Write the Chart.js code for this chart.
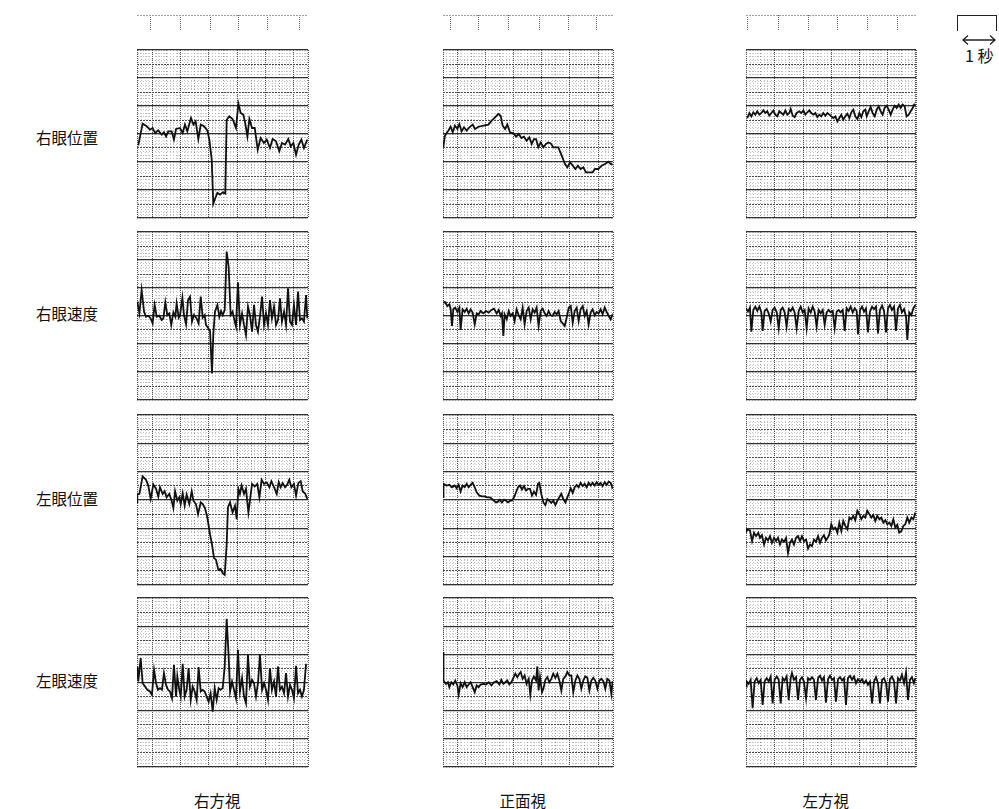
<!DOCTYPE html>
<html><head><meta charset="utf-8">
<script src="https://cdn.jsdelivr.net/npm/chart.js@4.4.1/dist/chart.umd.min.js"></script>
<style>
html,body{margin:0;padding:0;background:#fff;}
body{width:999px;height:809px;position:relative;overflow:hidden;font-family:"Noto Sans CJK JP","Noto Sans",sans-serif;color:#111;}
canvas{position:absolute;}
.lbl{position:absolute;font-size:15.5px;line-height:16px;white-space:nowrap;}
</style></head><body>
<script>
// ---- categories ----
const ROW_LABELS = ['右眼位置','右眼速度','左眼位置','左眼速度'];
const COL_LABELS = ['右方視','正面視','左方視'];
// ---- time marks (grid units from panel left) ----
const MARKS_RIGHT_GAZE = [0.97,3.05,5.18,7.23,9.29,11.56];
const MARKS_FRONT_GAZE = [0.55,2.55,4.68,6.81,8.87,10.92];
const MARKS_LEFT_GAZE  = [0.14,2.27,4.40,6.52,8.65,10.71];
// ---- traces: [time (grid units), amplitude (grid units, 0..12)] ----
const RIGHT_GAZE_R_POS = [[0.09,5.19],[0.40,6.74],[0.69,6.55],[0.92,6.31],[1.11,6.43],[1.28,6.07],[1.51,6.26],[1.75,5.95],[1.91,6.12],[2.06,5.83],[2.22,6.19],[2.46,6.19],[2.62,5.60],[2.77,6.36],[3.05,6.43],[3.24,6.07],[3.40,6.67],[3.57,6.19],[3.83,7.14],[4.00,6.67],[4.16,6.90],[4.35,5.64],[4.52,6.67],[4.75,6.55],[4.99,6.26],[5.13,5.60],[5.30,4.17],[5.41,1.02],[5.53,1.36],[5.70,1.79],[5.89,1.67],[6.08,1.83],[6.26,1.74],[6.36,7.02],[6.55,7.26],[6.78,7.07],[7.02,6.43],[7.19,8.17],[7.35,7.50],[7.54,7.38],[7.68,6.74],[7.83,5.83],[7.97,7.07],[8.16,6.43],[8.35,6.43],[8.56,4.88],[8.77,5.71],[9.00,5.36],[9.20,5.60],[9.43,5.00],[9.62,5.64],[9.86,5.48],[10.09,4.76],[10.28,5.36],[10.50,5.24],[10.73,5.64],[10.90,5.12],[11.09,5.36],[11.28,4.52],[11.47,5.24],[11.66,5.60],[11.84,5.00],[12.08,5.60]];
const RIGHT_GAZE_R_VEL = [[0.02,7.02],[0.17,6.19],[0.33,7.86],[0.50,6.31],[0.64,5.95],[0.80,6.02],[0.97,5.83],[1.11,5.48],[1.25,6.79],[1.40,5.95],[1.58,6.02],[1.75,5.71],[1.87,5.83],[2.01,6.98],[2.15,6.07],[2.29,6.19],[2.43,5.36],[2.58,6.26],[2.72,5.95],[2.81,6.90],[2.96,5.88],[3.05,6.02],[3.22,7.31],[3.33,6.07],[3.48,5.40],[3.62,7.14],[3.76,7.38],[3.90,5.60],[4.04,6.07],[4.23,5.83],[4.37,5.48],[4.52,7.38],[4.66,5.88],[4.80,6.07],[4.89,5.36],[5.06,5.12],[5.18,4.93],[5.32,1.90],[5.41,4.64],[5.53,6.31],[5.70,6.79],[5.84,5.95],[5.96,6.36],[6.08,6.07],[6.22,6.43],[6.36,10.60],[6.50,9.52],[6.64,6.07],[6.78,6.31],[6.93,5.60],[7.02,5.24],[7.16,8.40],[7.30,5.36],[7.45,6.19],[7.59,5.36],[7.73,4.64],[7.87,6.67],[8.01,6.07],[8.16,4.88],[8.30,6.79],[8.44,5.36],[8.58,4.88],[8.72,5.95],[8.87,7.38],[9.01,5.36],[9.15,6.19],[9.29,5.36],[9.43,7.14],[9.57,5.83],[9.72,6.67],[9.86,5.36],[10.00,5.71],[10.14,7.26],[10.28,5.60],[10.43,6.31],[10.57,5.36],[10.71,7.98],[10.85,5.60],[10.99,5.36],[11.13,6.79],[11.28,5.36],[11.42,7.74],[11.56,5.71],[11.70,5.83],[11.84,5.60],[11.99,7.50],[12.08,5.83]];
const RIGHT_GAZE_L_POS = [[0.00,5.83],[0.02,6.38],[0.17,6.43],[0.40,7.67],[0.64,7.43],[0.80,7.02],[0.97,6.07],[1.16,7.10],[1.35,6.79],[1.51,6.24],[1.63,6.90],[1.82,6.43],[1.96,6.62],[2.10,6.19],[2.29,6.43],[2.46,5.95],[2.58,5.43],[2.70,6.62],[2.86,5.95],[3.00,6.19],[3.10,5.71],[3.24,6.48],[3.38,5.60],[3.52,6.38],[3.71,5.71],[3.88,6.62],[4.00,5.95],[4.18,5.71],[4.33,5.00],[4.52,5.83],[4.66,5.71],[4.82,5.43],[4.99,4.76],[5.18,3.57],[5.32,2.86],[5.46,1.90],[5.60,1.79],[5.77,1.07],[5.93,1.14],[6.08,0.83],[6.22,0.71],[6.36,2.86],[6.45,5.48],[6.60,5.83],[6.78,5.12],[6.95,5.60],[7.07,4.64],[7.19,6.79],[7.30,6.43],[7.42,7.02],[7.59,6.43],[7.73,6.79],[7.90,5.12],[8.01,5.95],[8.16,7.14],[8.35,6.95],[8.53,7.14],[8.68,6.19],[8.84,7.43],[9.01,7.14],[9.20,7.24],[9.39,6.90],[9.53,7.33],[9.72,6.90],[9.91,6.43],[10.05,7.26],[10.19,6.90],[10.33,7.19],[10.50,6.90],[10.66,7.10],[10.80,7.43],[10.95,6.90],[11.13,7.14],[11.28,6.31],[11.44,7.19],[11.61,7.33],[11.75,6.62],[11.94,6.43],[12.08,6.07]];
const RIGHT_GAZE_L_VEL = [[0.00,6.79],[0.02,7.14],[0.09,6.07],[0.26,7.74],[0.40,5.95],[0.57,5.71],[0.73,5.48],[0.92,5.36],[1.06,5.12],[1.21,6.90],[1.35,5.95],[1.49,5.48],[1.63,5.60],[1.77,5.48],[1.91,6.67],[2.06,5.83],[2.20,5.48],[2.34,5.36],[2.48,4.88],[2.62,7.26],[2.77,5.00],[2.86,6.43],[3.00,5.48],[3.10,5.00],[3.24,7.33],[3.38,5.00],[3.52,5.48],[3.66,7.02],[3.81,4.76],[3.95,5.71],[4.09,5.36],[4.23,4.76],[4.37,7.10],[4.52,5.36],[4.66,5.48],[4.80,5.36],[4.94,5.00],[5.08,4.64],[5.22,5.24],[5.37,3.93],[5.51,5.60],[5.65,4.76],[5.79,5.60],[5.93,5.48],[6.08,5.60],[6.22,7.14],[6.36,10.52],[6.50,7.86],[6.60,5.36],[6.74,6.07],[6.88,5.48],[7.02,4.88],[7.16,8.33],[7.30,5.36],[7.45,6.31],[7.59,5.00],[7.73,4.52],[7.87,7.98],[8.01,5.71],[8.16,6.19],[8.30,5.95],[8.44,5.00],[8.58,5.95],[8.72,7.98],[8.87,5.48],[9.01,5.95],[9.15,5.48],[9.29,4.76],[9.43,7.02],[9.57,5.48],[9.72,6.07],[9.86,5.00],[10.00,7.14],[10.14,5.48],[10.28,5.71],[10.43,5.24],[10.57,6.67],[10.71,5.00],[10.85,5.83],[10.99,5.48],[11.13,4.88],[11.28,7.19],[11.42,5.24],[11.56,5.48],[11.70,5.00],[11.84,5.48],[11.99,7.33]];
const FRONT_GAZE_R_POS = [[0.02,5.05],[0.14,5.88],[0.38,6.24],[0.54,6.52],[0.69,6.12],[0.85,6.60],[1.02,6.36],[1.16,6.71],[1.32,6.19],[1.49,6.48],[1.68,6.24],[1.87,6.48],[2.10,6.67],[2.27,6.36],[2.51,6.52],[2.86,6.60],[3.22,6.67],[3.45,6.95],[3.69,7.19],[3.92,7.43],[4.09,7.31],[4.23,6.60],[4.40,6.36],[4.56,6.67],[4.75,6.12],[4.99,6.05],[5.18,5.81],[5.37,6.00],[5.56,5.71],[5.74,5.81],[5.93,5.52],[6.12,5.76],[6.29,5.29],[6.45,5.64],[6.60,5.64],[6.76,5.05],[6.93,5.40],[7.12,5.05],[7.30,5.29],[7.47,5.40],[7.64,5.33],[7.82,5.05],[8.18,5.05],[8.42,4.45],[8.65,3.86],[8.82,3.62],[9.01,3.98],[9.20,3.74],[9.39,3.50],[9.57,3.74],[9.76,3.50],[9.95,3.62],[10.14,3.26],[10.38,3.26],[10.61,3.26],[10.78,3.50],[11.02,3.50],[11.25,3.74],[11.49,3.86],[11.73,4.02],[11.89,3.86],[12.03,3.81]];
const FRONT_GAZE_R_VEL = [[0.00,6.95],[0.14,7.00],[0.31,6.71],[0.45,6.83],[0.54,6.52],[0.64,5.29],[0.73,6.48],[0.87,6.60],[1.02,6.29],[1.16,6.60],[1.25,5.00],[1.39,6.48],[1.54,6.29],[1.68,6.52],[1.82,6.19],[1.96,6.48],[2.10,6.24],[2.25,5.40],[2.39,6.19],[2.53,6.12],[2.67,6.36],[2.86,6.19],[3.05,6.36],[3.24,6.24],[3.43,6.43],[3.62,6.52],[3.81,6.19],[3.95,6.43],[4.09,6.00],[4.18,6.19],[4.28,4.57],[4.37,6.12],[4.52,5.76],[4.66,6.36],[4.80,6.00],[4.94,6.19],[5.08,5.64],[5.22,6.48],[5.37,6.05],[5.51,5.76],[5.65,6.60],[5.79,5.40],[5.93,6.36],[6.08,6.60],[6.22,5.76],[6.36,6.48],[6.50,6.24],[6.64,6.60],[6.78,5.29],[6.93,6.36],[7.07,6.52],[7.21,6.19],[7.35,6.00],[7.49,6.36],[7.64,6.05],[7.78,6.00],[7.92,6.29],[8.06,6.12],[8.20,6.36],[8.35,5.64],[8.49,5.48],[8.63,5.29],[8.77,5.88],[8.92,6.60],[9.06,6.71],[9.20,5.52],[9.34,6.36],[9.48,6.60],[9.62,5.64],[9.76,6.48],[9.91,6.71],[10.05,6.00],[10.19,6.36],[10.33,5.40],[10.47,6.24],[10.61,6.48],[10.76,6.05],[10.90,6.29],[11.04,6.19],[11.18,6.48],[11.32,6.12],[11.47,6.60],[11.61,6.29],[11.75,6.00],[11.89,5.76],[12.03,6.12]];
const FRONT_GAZE_L_POS = [[0.00,6.20],[0.00,7.02],[0.07,7.14],[0.26,7.02],[0.45,7.07],[0.64,6.90],[0.83,7.02],[0.97,6.83],[1.11,7.07],[1.25,6.60],[1.39,7.02],[1.54,6.90],[1.68,7.14],[1.82,6.90],[1.96,7.07],[2.10,7.21],[2.25,6.90],[2.39,6.55],[2.58,6.31],[2.77,6.26],[2.96,6.26],[3.14,6.19],[3.33,6.19],[3.48,6.07],[3.62,5.95],[3.76,5.83],[3.90,5.88],[4.04,6.02],[4.18,5.83],[4.33,6.02],[4.47,5.95],[4.61,5.83],[4.75,5.95],[4.89,5.95],[5.04,6.19],[5.18,6.55],[5.32,6.90],[5.46,7.02],[5.60,6.74],[5.74,6.98],[5.89,6.67],[6.03,6.79],[6.17,6.79],[6.31,6.31],[6.45,6.60],[6.60,6.36],[6.74,7.14],[6.83,7.21],[6.97,6.43],[7.12,5.83],[7.26,5.64],[7.40,6.07],[7.54,5.95],[7.68,5.79],[7.82,5.95],[7.97,5.64],[8.11,5.95],[8.25,6.19],[8.39,6.43],[8.53,6.07],[8.68,5.83],[8.82,6.19],[8.96,6.55],[9.06,6.83],[9.20,6.50],[9.34,6.90],[9.48,7.07],[9.62,6.90],[9.76,7.21],[9.91,6.98],[10.05,7.14],[10.19,6.90],[10.33,7.21],[10.47,7.02],[10.61,7.21],[10.76,7.02],[10.90,7.26],[11.04,7.07],[11.18,7.21],[11.32,6.98],[11.47,7.26],[11.61,7.07],[11.75,7.31],[11.89,7.21],[12.03,6.79]];
const FRONT_GAZE_L_VEL = [[0.00,8.17],[0.00,7.10],[0.07,6.14],[0.21,5.90],[0.35,6.02],[0.45,5.67],[0.59,6.02],[0.73,5.86],[0.87,6.14],[1.02,5.79],[1.11,5.14],[1.25,5.95],[1.39,5.67],[1.54,6.02],[1.68,5.67],[1.82,5.86],[1.96,6.02],[2.10,5.67],[2.25,5.31],[2.39,5.79],[2.53,5.67],[2.67,5.86],[2.86,5.90],[3.05,5.86],[3.24,6.02],[3.43,5.79],[3.62,6.02],[3.81,6.10],[4.00,5.86],[4.14,6.19],[4.28,5.90],[4.42,6.02],[4.56,6.14],[4.70,5.86],[4.85,6.02],[4.99,6.33],[5.13,6.62],[5.27,6.38],[5.41,6.62],[5.51,6.74],[5.65,6.26],[5.79,6.50],[5.93,5.90],[6.08,6.26],[6.19,5.14],[6.31,6.14],[6.45,6.43],[6.60,6.14],[6.69,7.14],[6.78,5.43],[6.88,6.38],[7.02,5.31],[7.12,5.55],[7.26,6.19],[7.40,6.38],[7.54,6.02],[7.68,6.26],[7.82,6.62],[7.97,6.33],[8.11,6.62],[8.25,6.14],[8.39,5.43],[8.53,6.26],[8.68,6.43],[8.82,6.74],[8.96,6.50],[9.10,6.50],[9.24,5.31],[9.39,6.14],[9.53,6.50],[9.67,6.26],[9.81,5.55],[9.95,6.14],[10.09,6.43],[10.24,6.33],[10.38,5.43],[10.52,6.14],[10.66,6.33],[10.80,6.14],[10.95,5.55],[11.09,6.14],[11.23,6.26],[11.37,6.10],[11.51,5.55],[11.65,6.26],[11.80,6.14],[11.94,5.19],[12.03,6.10]];
const LEFT_GAZE_R_POS = [[0.09,7.14],[0.24,7.50],[0.38,7.26],[0.52,7.55],[0.66,7.38],[0.80,7.62],[0.95,7.38],[1.09,7.50],[1.23,7.69],[1.37,7.50],[1.51,7.62],[1.65,7.31],[1.80,7.50],[1.94,7.67],[2.08,7.38],[2.22,7.26],[2.36,7.62],[2.51,7.50],[2.65,7.38],[2.79,7.69],[2.93,7.38],[3.07,7.50],[3.17,7.79],[3.31,7.31],[3.45,7.21],[3.59,7.50],[3.78,7.62],[3.92,7.50],[4.07,7.69],[4.21,7.38],[4.35,7.55],[4.49,7.69],[4.63,7.50],[4.78,7.38],[4.92,7.50],[5.06,7.21],[5.20,7.38],[5.34,7.26],[5.48,7.50],[5.63,7.31],[5.77,7.50],[5.91,7.38],[6.05,7.26],[6.19,7.14],[6.34,7.26],[6.48,6.90],[6.62,7.14],[6.76,7.38],[6.90,7.02],[7.04,7.26],[7.19,7.45],[7.33,7.14],[7.47,7.55],[7.61,7.74],[7.75,7.26],[7.90,7.07],[8.04,7.50],[8.18,7.21],[8.32,7.62],[8.46,7.74],[8.56,7.26],[8.70,7.62],[8.84,7.93],[8.98,7.50],[9.13,7.26],[9.27,7.74],[9.41,7.98],[9.55,7.62],[9.69,7.38],[9.83,7.86],[9.98,8.02],[10.12,7.74],[10.26,7.38],[10.40,7.74],[10.54,8.02],[10.69,7.86],[10.83,8.10],[10.97,7.86],[11.11,8.10],[11.25,7.98],[11.39,7.26],[11.54,7.38],[11.68,7.62],[11.82,7.86],[11.96,8.17]];
const LEFT_GAZE_R_VEL = [[0.00,6.55],[0.14,6.31],[0.28,6.60],[0.38,4.88],[0.52,6.43],[0.66,6.67],[0.80,6.36],[0.95,6.67],[1.09,6.26],[1.18,4.93],[1.32,6.36],[1.47,6.50],[1.61,6.19],[1.75,5.60],[1.89,6.43],[2.03,6.60],[2.18,6.26],[2.32,5.12],[2.46,6.43],[2.60,6.60],[2.74,6.26],[2.88,5.24],[3.03,6.50],[3.17,6.36],[3.31,6.60],[3.45,6.26],[3.59,5.12],[3.74,6.36],[3.88,6.67],[4.02,6.26],[4.16,6.43],[4.30,5.12],[4.44,6.55],[4.59,6.26],[4.73,6.67],[4.87,6.31],[5.01,5.24],[5.15,6.43],[5.30,6.19],[5.44,6.43],[5.58,5.36],[5.72,6.26],[5.86,6.43],[6.00,6.26],[6.15,6.36],[6.29,5.12],[6.43,6.31],[6.57,6.43],[6.71,6.26],[6.86,6.43],[7.00,4.93],[7.14,6.55],[7.28,6.36],[7.42,6.67],[7.57,6.26],[7.71,6.55],[7.85,6.36],[7.94,4.69],[8.09,6.43],[8.23,6.67],[8.37,6.31],[8.51,6.55],[8.65,4.83],[8.79,6.31],[8.94,6.67],[9.08,6.50],[9.22,6.67],[9.36,4.76],[9.50,6.43],[9.65,6.74],[9.79,6.36],[9.93,4.83],[10.07,6.55],[10.21,6.79],[10.35,6.43],[10.50,6.67],[10.64,4.93],[10.78,6.55],[10.92,6.79],[11.06,6.26],[11.21,6.50],[11.35,5.95],[11.44,4.29],[11.58,6.26],[11.73,6.07],[11.87,6.55],[12.01,6.79]];
const LEFT_GAZE_L_POS = [[0.00,3.69],[0.09,3.93],[0.28,3.86],[0.43,3.10],[0.57,3.69],[0.71,3.45],[0.87,3.69],[0.99,3.33],[1.13,3.52],[1.28,2.86],[1.42,3.33],[1.56,3.14],[1.70,3.45],[1.84,2.98],[1.99,3.33],[2.13,3.10],[2.27,3.33],[2.41,2.86],[2.55,3.21],[2.70,3.05],[2.84,3.33],[2.98,2.26],[3.12,2.98],[3.26,3.21],[3.40,2.86],[3.55,3.33],[3.69,3.45],[3.83,3.10],[3.97,3.45],[4.11,3.10],[4.26,3.21],[4.40,2.57],[4.54,2.86],[4.68,2.74],[4.82,3.21],[4.96,3.05],[5.11,3.45],[5.25,2.98],[5.39,3.33],[5.53,3.52],[5.67,3.14],[5.82,3.38],[5.91,3.57],[6.05,4.29],[6.19,3.93],[6.34,4.05],[6.48,3.69],[6.62,4.40],[6.76,3.81],[6.90,4.52],[7.04,4.17],[7.19,3.93],[7.33,4.76],[7.47,4.64],[7.61,4.88],[7.75,4.57],[7.90,5.24],[8.04,5.00],[8.18,4.64],[8.32,4.88],[8.46,4.76],[8.60,5.24],[8.75,5.00],[8.89,4.76],[9.03,4.95],[9.17,4.52],[9.31,4.88],[9.46,4.64],[9.60,4.76],[9.74,4.40],[9.88,4.57],[10.02,4.29],[10.17,4.40],[10.31,4.17],[10.45,4.64],[10.59,4.05],[10.73,4.24],[10.87,3.69],[11.02,3.81],[11.16,4.17],[11.30,4.29],[11.44,4.76],[11.58,4.40],[11.73,4.76],[11.87,4.64],[12.01,5.12]];
const LEFT_GAZE_L_VEL = [[0.00,5.71],[0.05,6.07],[0.19,5.90],[0.33,6.19],[0.47,4.17],[0.61,6.07],[0.76,6.31],[0.90,5.95],[1.04,6.19],[1.18,4.40],[1.32,6.07],[1.47,6.31],[1.61,6.07],[1.75,6.43],[1.89,4.52],[2.03,6.19],[2.18,6.43],[2.32,6.19],[2.46,4.52],[2.60,6.31],[2.74,6.14],[2.88,6.43],[3.03,4.76],[3.17,6.31],[3.26,6.67],[3.40,6.19],[3.55,6.38],[3.69,4.76],[3.83,6.19],[3.97,6.38],[4.11,6.07],[4.26,4.88],[4.40,6.31],[4.54,6.19],[4.68,6.38],[4.82,6.19],[4.96,4.76],[5.11,6.31],[5.25,6.48],[5.39,6.14],[5.53,6.38],[5.67,4.57],[5.82,6.24],[5.96,6.48],[6.10,6.19],[6.24,6.31],[6.38,4.64],[6.53,6.24],[6.67,6.38],[6.81,6.14],[6.95,6.31],[7.09,4.40],[7.23,6.31],[7.38,6.48],[7.52,6.19],[7.66,6.43],[7.80,5.95],[7.94,6.24],[8.09,6.07],[8.23,6.24],[8.37,5.95],[8.51,6.14],[8.65,5.83],[8.79,6.07],[8.94,4.52],[9.08,6.07],[9.22,6.38],[9.36,5.95],[9.50,4.52],[9.65,6.19],[9.79,6.31],[9.93,5.95],[10.07,4.64],[10.21,6.24],[10.35,6.43],[10.50,6.07],[10.64,4.52],[10.78,6.31],[10.92,6.14],[11.06,6.55],[11.21,5.95],[11.35,6.71],[11.49,4.76],[11.63,6.19],[11.77,6.38],[11.91,5.95],[12.01,6.31]];

const TRACES = [
  [RIGHT_GAZE_R_POS, FRONT_GAZE_R_POS, LEFT_GAZE_R_POS],
  [RIGHT_GAZE_R_VEL, FRONT_GAZE_R_VEL, LEFT_GAZE_R_VEL],
  [RIGHT_GAZE_L_POS, FRONT_GAZE_L_POS, LEFT_GAZE_L_POS],
  [RIGHT_GAZE_L_VEL, FRONT_GAZE_L_VEL, LEFT_GAZE_L_VEL]
];
const MARKS = [MARKS_RIGHT_GAZE, MARKS_FRONT_GAZE, MARKS_LEFT_GAZE];

// ---- layout ----
const UNIT = 14.1;
const COL_LEFT = [137, 443, 746];
const COL_W = [171, 170, 170];
const COL_GRID_OFFSET = [1.1, 1.0, 0.05];
const ROW_TOP = [50, 232, 415, 598];
const ROW_H = [168, 168, 170, 169];
const PAD = 2;

function range(start, end, step) {
  const out = [];
  for (let v = start; v <= end + 1e-6; v += step) out.push(+v.toFixed(4));
  return out;
}
function gridAxis(dir, min, max, values, color, width, dash, z) {
  return {
    type: 'linear', axis: dir, position: dir === 'x' ? 'bottom' : 'left',
    min, max, display: true,
    afterBuildTicks: s => { s.ticks = values.map(v => ({ value: v })); },
    ticks: { display: false },
    grid: { drawTicks: false, color, lineWidth: width, z },
    border: { display: false, dash }
  };
}
function makeCanvas(left, top, w, h) {
  const c = document.createElement('canvas');
  c.width = w; c.height = h;
  c.style.left = left + 'px'; c.style.top = top + 'px';
  c.style.width = w + 'px'; c.style.height = h + 'px';
  document.body.appendChild(c);
  return c;
}
const baseOpts = {
  responsive: false, animation: false, events: [], devicePixelRatio: 1,
  layout: { padding: PAD },
  plugins: { legend: { display: false }, tooltip: { enabled: false } }
};

for (let c = 0; c < 3; c++) {
  const xMax = COL_W[c] / UNIT;
  const off = COL_GRID_OFFSET[c];
  const majX = [0, ...range(off, xMax, 2), xMax];
  const minX = range(off + 1, xMax, 2);
  const fineStart = off - Math.floor(off / 0.25) * 0.25;
  const fineX = range(fineStart, xMax, 0.25);
  for (let r = 0; r < 4; r++) {
    const cv = makeCanvas(COL_LEFT[c] - PAD, ROW_TOP[r] - PAD, COL_W[c] + 2 * PAD, ROW_H[r] + 2 * PAD);
    new Chart(cv, {
      type: 'line',
      data: { datasets: [{
        data: TRACES[r][c].map(([x, y]) => ({ x, y })),
        borderColor: '#111', borderWidth: 1.8, pointRadius: 0, tension: 0, fill: false
      }] },
      options: Object.assign({}, baseOpts, {
        scales: {
          xFine: gridAxis('x', 0, xMax, fineX, '#c2c2c2', 1, [1, 2], -3),
          yFine: gridAxis('y', 0, 12, range(0, 12, 0.25), '#c2c2c2', 1, [1, 2], -3),
          xMinor: gridAxis('x', 0, xMax, minX, '#939393', 1, [1, 2], -2),
          yOdd: gridAxis('y', 0, 12, range(1, 11, 2), '#4a4a4a', 1, [2, 1], -2),
          x: gridAxis('x', 0, xMax, majX, '#555', 1, [1, 1], -1),
          y: gridAxis('y', 0, 12, range(0, 12, 2), '#303030', 1.3, [], -1)
        }
      })
    });
  }
  // time-mark strip above each column
  const tc = makeCanvas(COL_LEFT[c] - PAD, 13, COL_W[c] + 2 * PAD, 20);
  new Chart(tc, {
    type: 'line',
    data: { datasets: [] },
    options: Object.assign({}, baseOpts, {
      scales: {
        x: gridAxis('x', 0, xMax, MARKS[c], '#6a6a6a', 1, [1, 1], -1),
        y: gridAxis('y', 0, 1, [1], '#a0a0a0', 1, [2, 1], -1)
      }
    })
  });
}

// ---- text labels ----
function addLabel(text, cx, cy, size) {
  const d = document.createElement('div');
  d.className = 'lbl';
  d.textContent = text;
  if (size) d.style.fontSize = size + 'px';
  document.body.appendChild(d);
  const w = d.offsetWidth, h = d.offsetHeight;
  d.style.left = (cx - w / 2) + 'px';
  d.style.top = (cy - h / 2) + 'px';
}
const ROW_LABEL_Y = [137, 313, 498, 680];
ROW_LABELS.forEach((t, i) => addLabel(t, 67, ROW_LABEL_Y[i]));
COL_LABELS.forEach((t, i) => addLabel(t, COL_LEFT[i] + COL_W[i] / 2 - 5, 800));
</script>
<!-- scale bar: 1 second -->
<div style="position:absolute;left:957px;top:15px;width:38px;height:15px;border-top:1.3px solid #222;border-left:1.3px solid #222;border-right:1.3px solid #222;"></div>
<svg style="position:absolute;left:960px;top:34px" width="39" height="12" viewBox="0 0 39 12">
  <path d="M3 6 H35 M8 1.5 L3 6 L8 10.5 M30 1.5 L35 6 L30 10.5" fill="none" stroke="#222" stroke-width="1.3"/>
</svg>
<div class="lbl" style="left:965px;top:47px;font-size:16px;">1 秒</div>
</body></html>
